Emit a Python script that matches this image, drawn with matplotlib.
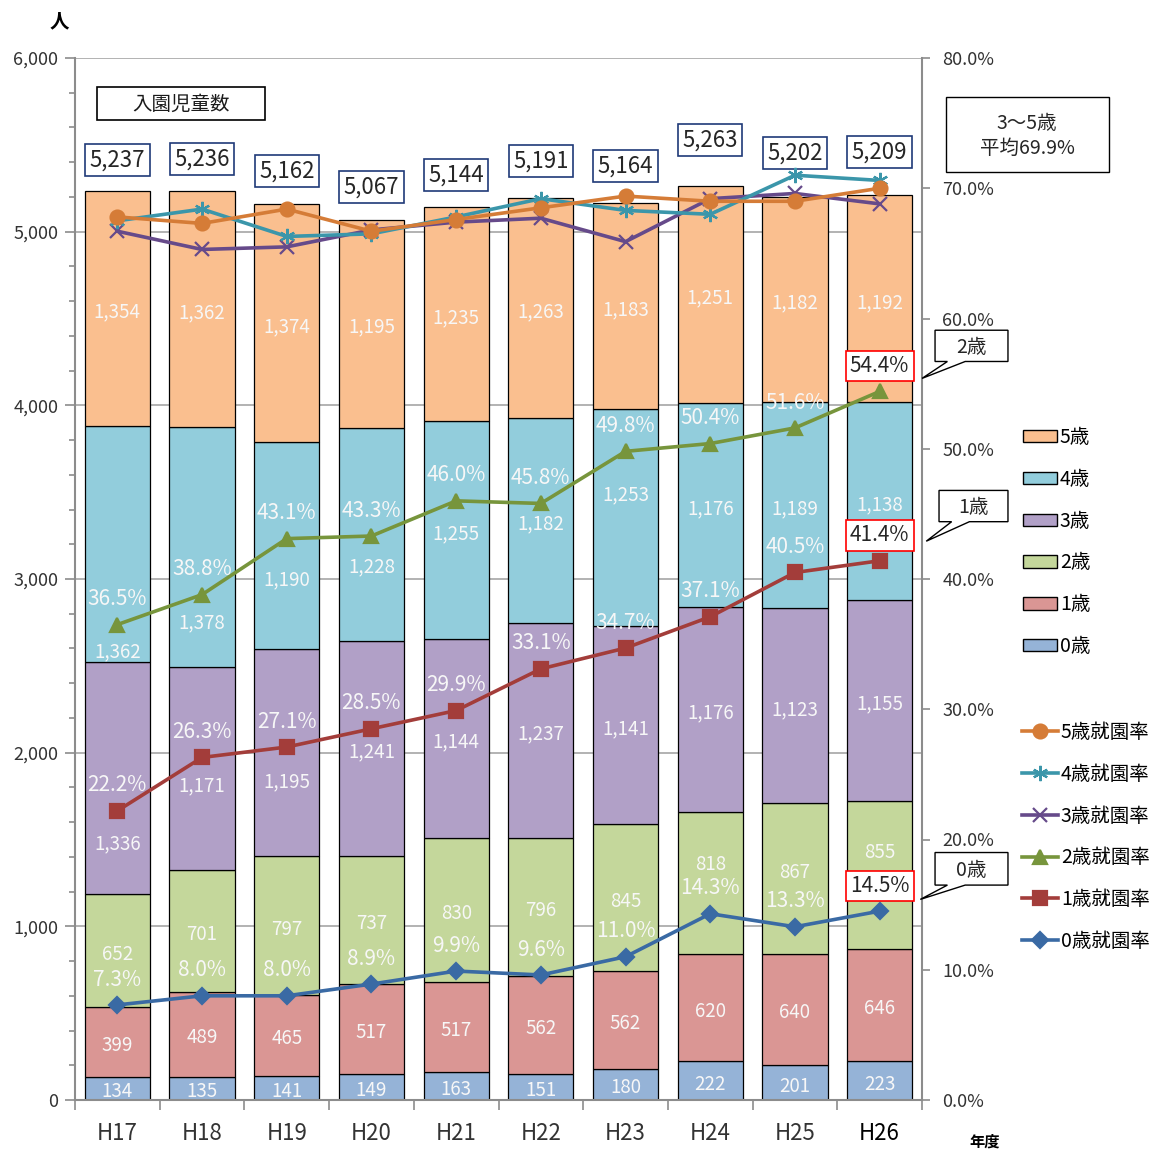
import matplotlib.pyplot as plt
import matplotlib.transforms as mtransforms
import numpy as np
from matplotlib.lines import Line2D
from matplotlib.patches import Patch, Polygon, Rectangle
from matplotlib.ticker import FuncFormatter, MultipleLocator

plt.rcParams['font.family'] = ['Noto Sans CJK JP', 'DejaVu Sans']

years = ['H17', 'H18', 'H19', 'H20', 'H21', 'H22', 'H23', 'H24', 'H25', 'H26']

# 入園児童数 (人)
age0 = [134, 135, 141, 149, 163, 151, 180, 222, 201, 223]
age1 = [399, 489, 465, 517, 517, 562, 562, 620, 640, 646]
age2 = [652, 701, 797, 737, 830, 796, 845, 818, 867, 855]
age3 = [1336, 1171, 1195, 1241, 1144, 1237, 1141, 1176, 1123, 1155]
age4 = [1362, 1378, 1190, 1228, 1255, 1182, 1253, 1176, 1189, 1138]
age5 = [1354, 1362, 1374, 1195, 1235, 1263, 1183, 1251, 1182, 1192]

# 就園率 (%)
rate0 = [7.3, 8.0, 8.0, 8.9, 9.9, 9.6, 11.0, 14.3, 13.3, 14.5]
rate1 = [22.2, 26.3, 27.1, 28.5, 29.9, 33.1, 34.7, 37.1, 40.5, 41.4]
rate2 = [36.5, 38.8, 43.1, 43.3, 46.0, 45.8, 49.8, 50.4, 51.6, 54.4]
rate3 = [66.7, 65.3, 65.5, 66.8, 67.4, 67.7, 65.9, 69.2, 69.6, 68.8]
rate4 = [67.5, 68.4, 66.3, 66.5, 67.8, 69.2, 68.3, 68.0, 71.0, 70.6]
rate5 = [67.8, 67.3, 68.4, 66.7, 67.6, 68.5, 69.4, 69.0, 69.0, 70.0]

bar_names = ['0歳', '1歳', '2歳', '3歳', '4歳', '5歳']
bar_colors = ['#95B3D7', '#DA9694', '#C4D79B', '#B1A0C7', '#92CDDC', '#FABF8F']

line_names = ['0歳就園率', '1歳就園率', '2歳就園率', '3歳就園率', '4歳就園率', '5歳就園率']
line_colors = ['#3A6AA4', '#A33D3A', '#77953C', '#664A8A', '#3B96AA', '#D57C37']
line_markers = ['D', 's', '^', 'x', (6, 2, 0), 'o']
line_msizes = [8, 10, 10, 10, 11, 10]

# manual nudges of the count labels inside the bars (people units)
label_shift = {
    2: [0, 0, 0, 0, 0, 0, 0, 125, 55, 150],
    3: [-360, -80, -150, 0, 0, 0, 0, 0, 0, 0],
    4: [-600, -420, -180, -170, 0, 0, 150, 0, 0, 0],
}
# vertical offsets of the total boxes above each bar (points)
total_offset = [22, 23, 23.5, 24, 23, 27, 27, 33, 31.5, 31.5]

ages = [age0, age1, age2, age3, age4, age5]
rates = [rate0, rate1, rate2, rate3, rate4, rate5]
totals = np.sum(ages, axis=0)

W, H = 1154, 1150
fig = plt.figure(figsize=(W / 100, H / 100), dpi=100)
ax = fig.add_axes([75 / W, 50 / H, 847 / W, 1042 / H])
x = np.arange(len(years))

bottom = np.zeros(len(years))
for k, (vals, color, name) in enumerate(zip(ages, bar_colors, bar_names)):
    vals = np.array(vals)
    ax.bar(x, vals, 0.77, bottom=bottom, color=color, edgecolor='black', linewidth=0.9, zorder=2, label=name)
    shift = label_shift.get(k, [0] * len(years))
    for i, v in enumerate(vals):
        ax.annotate(f'{v:,}', (i, bottom[i] + v / 2 + shift[i]), xytext=(0, -2.5), textcoords='offset points',
                    ha='center', va='center', color='#F7F7F7', fontsize=13.5, zorder=4)
    bottom += vals

for i, t in enumerate(totals):
    ax.annotate(f'{t:,}', (i, t), xytext=(0, total_offset[i]), textcoords='offset points',
                ha='center', va='center', fontsize=16, color='#262626', zorder=5,
                bbox=dict(boxstyle='square,pad=0.2', fc='white', ec='#1F3A78', lw=1.2))

ax.set_xlim(-0.5, 9.5)
ax.set_ylim(0, 6000)
ax.yaxis.set_major_locator(MultipleLocator(1000))
ax.yaxis.set_minor_locator(MultipleLocator(200))
ax.yaxis.set_major_formatter(FuncFormatter(lambda v, p: f'{int(v):,}'))
ax.set_xticks(x)
ax.set_xticklabels(years, fontsize=16, color='#333333')
ax.get_xticklabels()[-1].set_color('black')
ax.set_xticks(np.arange(-0.5, 10, 1), minor=True)
ax.tick_params(axis='x', which='major', length=0, pad=16)
ax.tick_params(axis='x', which='minor', length=7, color='#8C8C8C', width=1.2)
ax.tick_params(axis='y', which='major', length=7, color='#8C8C8C', width=1.2, labelsize=13, labelcolor='#333333', pad=5)
ax.tick_params(axis='y', which='minor', length=4, color='#8C8C8C', width=1.2)
ax.grid(axis='y', which='major', color='#A6A6A6', linewidth=1.2)
ax.set_axisbelow(True)
for s in ['top', 'right']:
    ax.spines[s].set_visible(False)
for s in ['left', 'bottom']:
    ax.spines[s].set_color('#8C8C8C')
    ax.spines[s].set_linewidth(1.5)

ax2 = ax.twinx()
ax2.set_ylim(0, 80)
ax2.set_xlim(-0.5, 9.5)
ax2.yaxis.set_major_locator(MultipleLocator(10))
ax2.yaxis.set_major_formatter(FuncFormatter(lambda v, p: f'{v:.1f}%'))
ax2.tick_params(axis='y', length=6, color='#8C8C8C', width=1.2, labelsize=13, labelcolor='#333333', pad=8.5)
for s in ['top', 'left', 'bottom']:
    ax2.spines[s].set_visible(False)
ax2.spines['right'].set_color('#8C8C8C')
ax2.spines['right'].set_linewidth(1.5)

for vals, color, marker, ms, name in zip(rates, line_colors, line_markers, line_msizes, line_names):
    ax2.plot(x, vals, color=color, lw=2.6, marker=marker, ms=ms, mfc=color, mec=color, mew=1.6,
             zorder=3, label=name)

for vals in rates[:3]:
    for i, v in enumerate(vals):
        if i < len(vals) - 1:
            ax2.text(i, v + 1.95, f'{v:.1f}%', ha='center', va='center', color='#F7F7F7', fontsize=15, zorder=6)
        else:
            ax2.text(i, v + 1.95, f'{v:.1f}%', ha='center', va='center', color='#262626', fontsize=15, zorder=6,
                     bbox=dict(boxstyle='square,pad=0.2', fc='white', ec='#FF0000', lw=1.2))

# callouts for the H26 labels
blend = mtransforms.blended_transform_factory(ax2.transAxes, ax2.transData)


def callout(text, x0, x1, ytop, ybot, bx0, bx1, tipx, tipy):
    pts = [(x0, ytop), (x1, ytop), (x1, ybot), (bx1, ybot), (tipx, tipy), (bx0, ybot), (x0, ybot)]
    ax2.add_patch(Polygon(pts, closed=True, fc='white', ec='black', lw=1.0, transform=blend, clip_on=False, zorder=6))
    ax2.text((x0 + x1) / 2, (ytop + ybot) / 2 - 0.1, text, ha='center', va='center', fontsize=14,
             color='#262626', transform=blend, zorder=7)


callout('2歳', 1.0154, 1.1015, 59.1, 56.7, 1.030, 1.051, 1.000, 55.4)
callout('1歳', 1.0201, 1.1015, 46.8, 44.4, 1.035, 1.056, 1.005, 42.9)
callout('0歳', 1.0154, 1.1015, 19.0, 16.5, 1.030, 1.051, 0.998, 15.4)

# title box inside the plot
fig.add_artist(Rectangle((97 / W, 1 - 120 / H), 168 / W, 33 / H, transform=fig.transFigure,
                         fc='white', ec='black', lw=1.2))
fig.text(181 / W, 1 - 104 / H, '入園児童数', ha='center', va='center', fontsize=14, color='#1A1A1A')

# average box
fig.add_artist(Rectangle((946 / W, 1 - 172 / H), 163 / W, 75 / H, transform=fig.transFigure,
                         fc='white', ec='black', lw=1.0))
fig.text(1027 / W, 1 - 136 / H, '3～5歳\n平均69.9%', ha='center', va='center', fontsize=14,
         color='#262626', linespacing=1.3)

fig.text(59 / W, 1 - 22 / H, '人', ha='center', va='center', fontsize=14, weight='bold')
fig.text(985 / W, 1 - 1142 / H, '年度', ha='center', va='center', fontsize=11, weight='bold')

bar_handles = [Patch(fc=c, ec='black', lw=1.0) for c in bar_colors][::-1]
leg1 = fig.legend(bar_handles, bar_names[::-1], loc='upper left', bbox_to_anchor=(1023 / W, 1 - 427 / H),
                  frameon=False, fontsize=14, handlelength=1.75, handleheight=0.6, handletextpad=0.15,
                  labelspacing=1.07, borderpad=0, borderaxespad=0)
line_handles = [Line2D([], [], color=c, lw=2.6, marker=m, ms=s, mfc=c, mec=c, mew=1.6)
                for c, m, s in zip(line_colors, line_markers, line_msizes)][::-1]
leg2 = fig.legend(line_handles, line_names[::-1], loc='upper left', bbox_to_anchor=(1022 / W, 1 - 722 / H),
                  frameon=False, fontsize=14, handlelength=1.85, handletextpad=0.15,
                  labelspacing=1.07, borderpad=0, borderaxespad=0)

plt.savefig('out.png', dpi=100)
plt.close()
